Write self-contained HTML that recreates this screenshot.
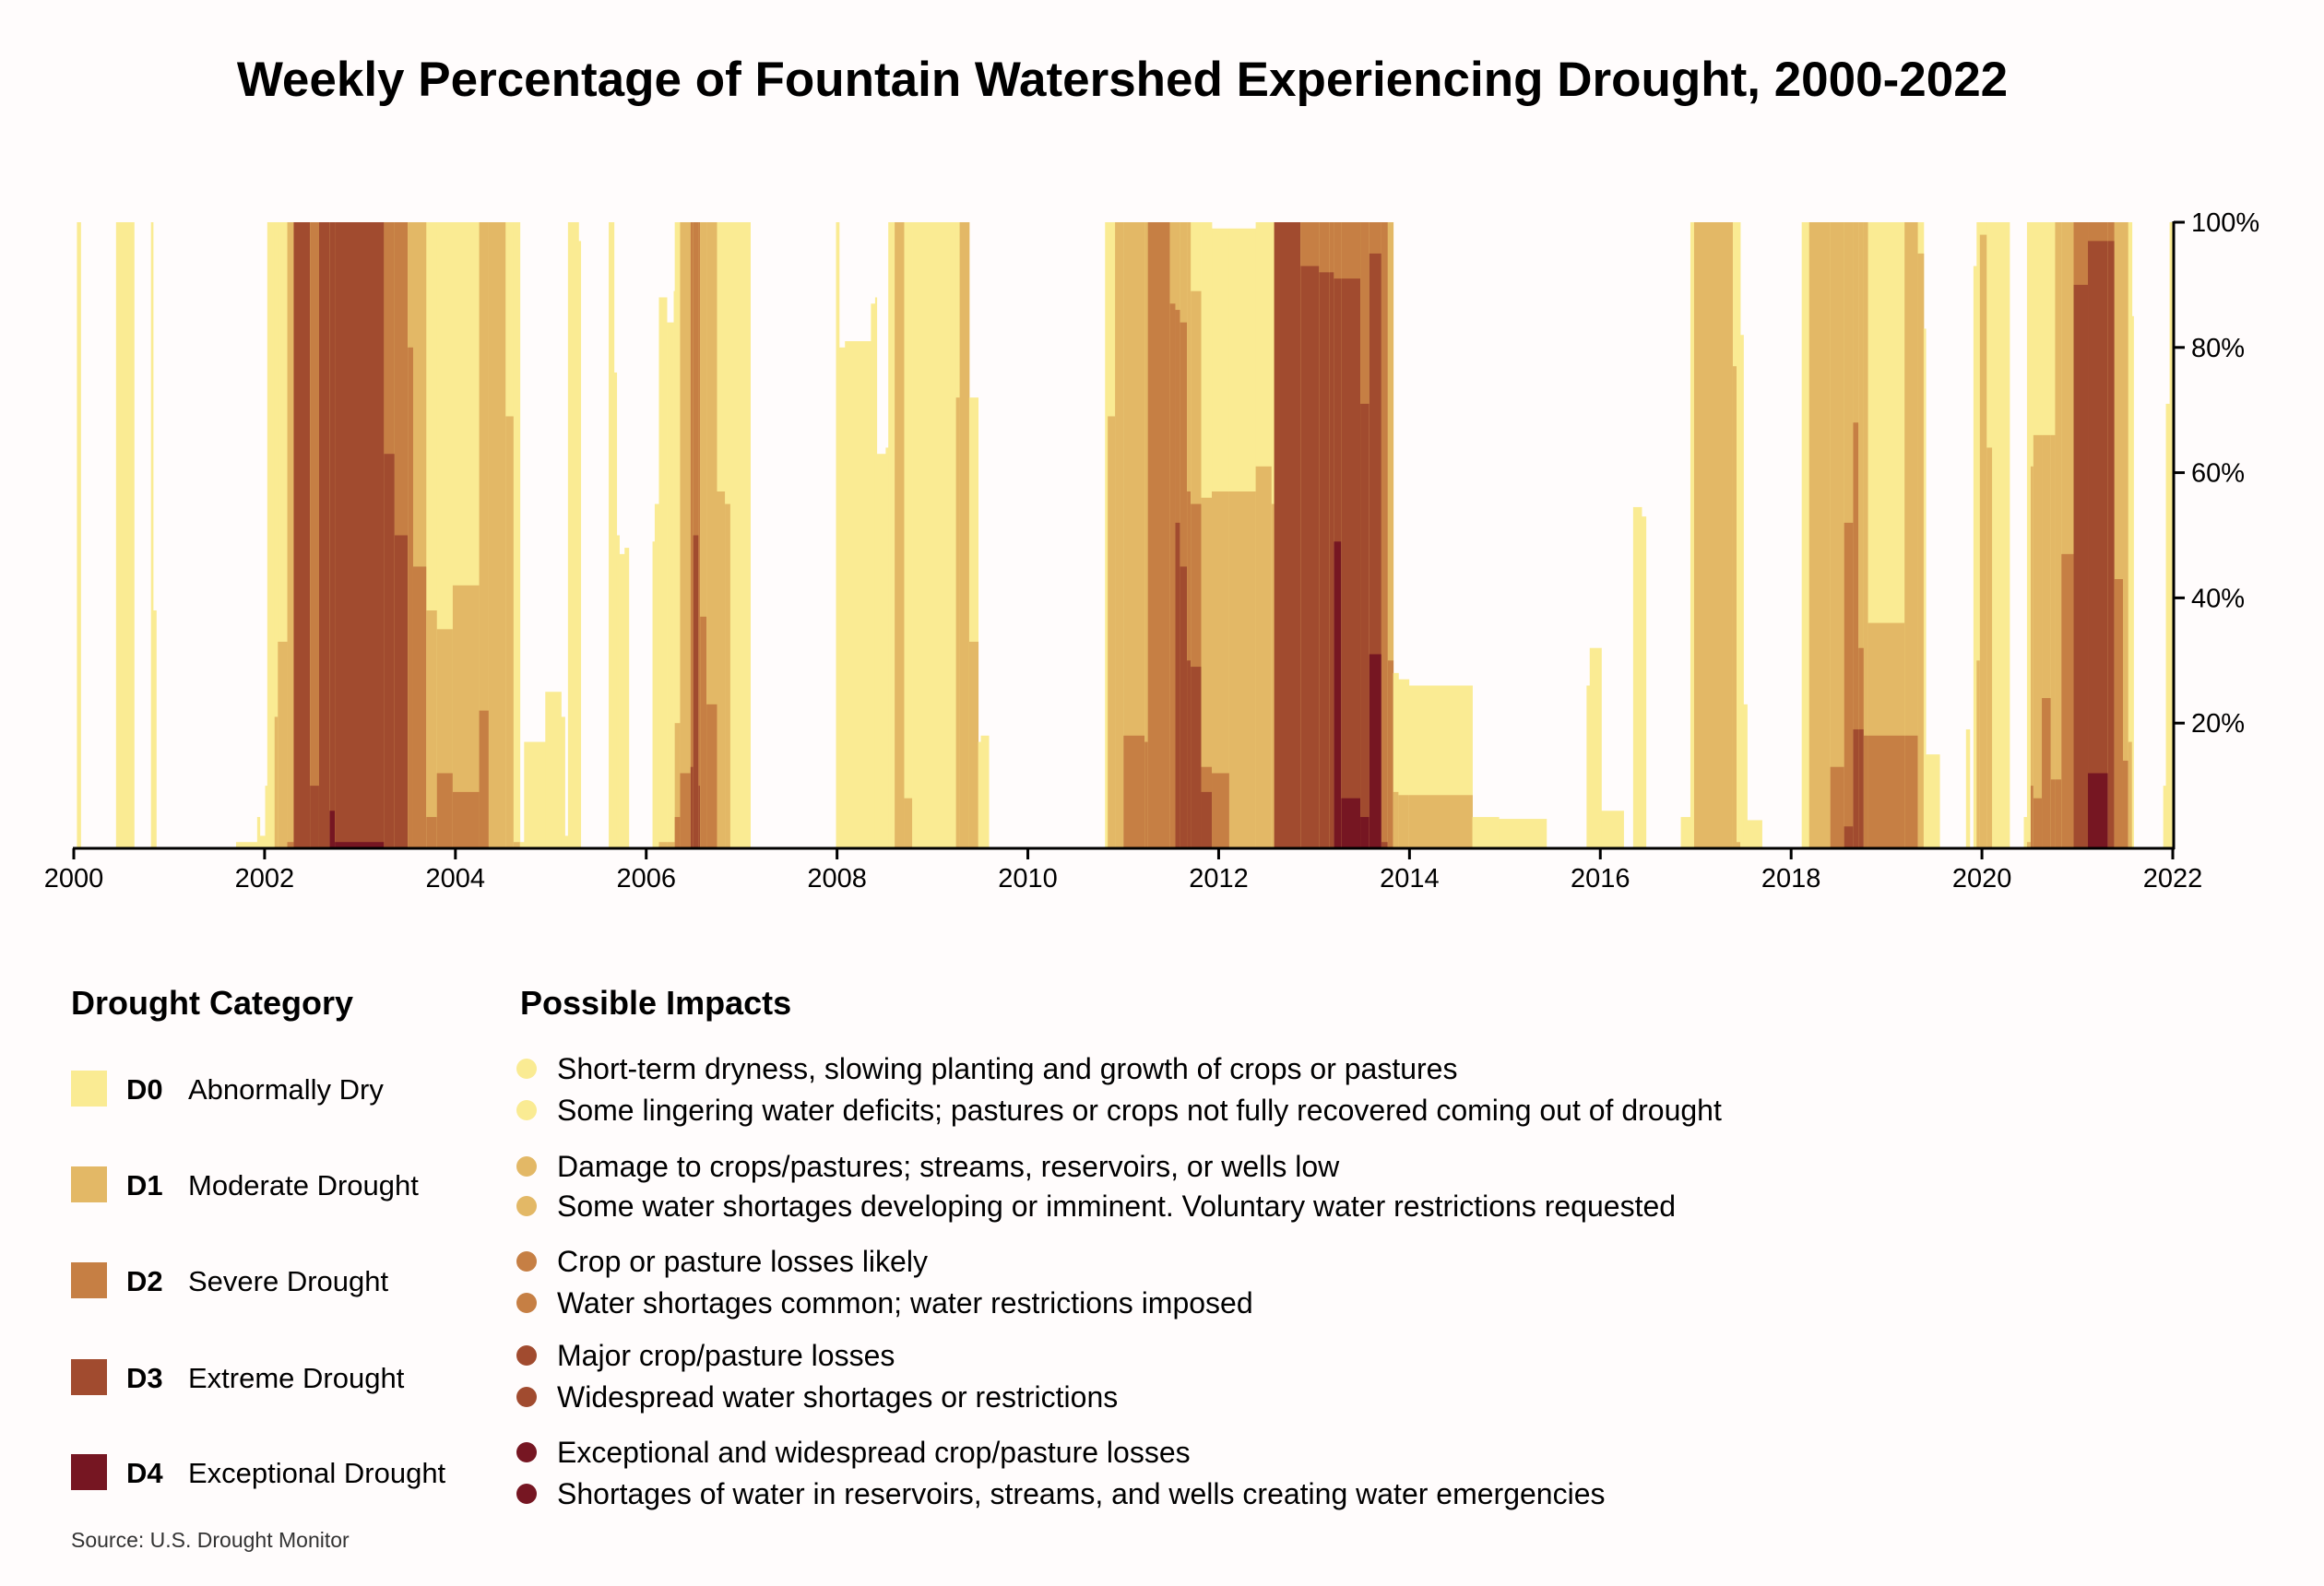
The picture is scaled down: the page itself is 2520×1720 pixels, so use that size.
<!DOCTYPE html>
<html><head><meta charset="utf-8"><style>
html,body{margin:0;padding:0;background:#fffcfc;}
svg{display:block;font-family:"Liberation Sans",sans-serif;}
</style></head><body>
<svg id="chart" width="2520" height="1720" viewBox="0 0 2520 1720">
<rect x="0" y="0" width="2520" height="1720" fill="#fffcfc"/>
<text x="1217" y="104" text-anchor="middle" font-size="53" font-weight="bold" fill="#000">Weekly Percentage of Fountain Watershed Experiencing Drought, 2000-2022</text>
<g id="bars"></g>
<g id="axes"></g>

<g>
<text x="77" y="1100" font-size="36" font-weight="bold">Drought Category</text>
<g><rect x="77" y="1161" width="39" height="39" fill="#faeb93"/><text x="137" y="1192" font-size="31" font-weight="bold">D0</text><text x="204" y="1192" font-size="31">Abnormally Dry</text></g>
<g><rect x="77" y="1265" width="39" height="39" fill="#e3b866"/><text x="137" y="1296" font-size="31" font-weight="bold">D1</text><text x="204" y="1296" font-size="31">Moderate Drought</text></g>
<g><rect x="77" y="1369" width="39" height="39" fill="#c67f44"/><text x="137" y="1400" font-size="31" font-weight="bold">D2</text><text x="204" y="1400" font-size="31">Severe Drought</text></g>
<g><rect x="77" y="1474" width="39" height="39" fill="#a14b2f"/><text x="137" y="1505" font-size="31" font-weight="bold">D3</text><text x="204" y="1505" font-size="31">Extreme Drought</text></g>
<g><rect x="77" y="1577" width="39" height="39" fill="#761622"/><text x="137" y="1608" font-size="31" font-weight="bold">D4</text><text x="204" y="1608" font-size="31">Exceptional Drought</text></g>
</g>

<g font-size="32">
<text x="564" y="1100" font-size="36" font-weight="bold">Possible Impacts</text>
<circle cx="571" cy="1159" r="11" fill="#faeb93"/><text x="604" y="1170">Short-term dryness, slowing planting and growth of crops or pastures</text>
<circle cx="571" cy="1204" r="11" fill="#faeb93"/><text x="604" y="1215">Some lingering water deficits; pastures or crops not fully recovered coming out of drought</text>
<circle cx="571" cy="1265" r="11" fill="#e3b866"/><text x="604" y="1276">Damage to crops/pastures; streams, reservoirs, or wells low</text>
<circle cx="571" cy="1308" r="11" fill="#e3b866"/><text x="604" y="1319">Some water shortages developing or imminent. Voluntary water restrictions requested</text>
<circle cx="571" cy="1368" r="11" fill="#c67f44"/><text x="604" y="1379">Crop or pasture losses likely</text>
<circle cx="571" cy="1413" r="11" fill="#c67f44"/><text x="604" y="1424">Water shortages common; water restrictions imposed</text>
<circle cx="571" cy="1470" r="11" fill="#a14b2f"/><text x="604" y="1481">Major crop/pasture losses</text>
<circle cx="571" cy="1515" r="11" fill="#a14b2f"/><text x="604" y="1526">Widespread water shortages or restrictions</text>
<circle cx="571" cy="1575" r="11" fill="#761622"/><text x="604" y="1586">Exceptional and widespread crop/pasture losses</text>
<circle cx="571" cy="1620" r="11" fill="#761622"/><text x="604" y="1631">Shortages of water in reservoirs, streams, and wells creating water emergencies</text>
</g>
<text x="77" y="1678" font-size="23" fill="#333">Source: U.S. Drought Monitor</text>
</svg>
<script>
const weekStart = [2000.000,2000.033,2000.072,2000.443,2000.632,2000.809,2000.831,2000.864,2001.701,2001.922,
2001.950,2002.006,2002.028,2002.105,2002.139,2002.238,2002.305,2002.476,2002.571,2002.681,
2002.737,2003.252,2003.363,2003.501,2003.557,2003.695,2003.806,2003.972,2004.249,2004.349,
2004.526,2004.609,2004.676,2004.720,2004.942,2005.108,2005.147,2005.180,2005.291,2005.313,
2005.607,2005.662,2005.690,2005.718,2005.773,2005.817,2006.066,2006.089,2006.133,2006.216,
2006.288,2006.299,2006.355,2006.465,2006.493,2006.548,2006.565,2006.632,2006.742,2006.825,
2006.881,2007.091,2007.989,2008.022,2008.083,2008.355,2008.399,2008.416,2008.510,2008.537,
2008.604,2008.704,2008.787,2009.247,2009.285,2009.385,2009.479,2009.507,2009.590,2010.809,
2010.837,2010.914,2011.003,2011.224,2011.258,2011.490,2011.546,2011.596,2011.668,2011.707,
2011.817,2011.928,2012.111,2012.388,2012.554,2012.582,2012.859,2013.053,2013.163,2013.208,
2013.285,2013.485,2013.579,2013.706,2013.773,2013.829,2013.884,2013.994,2014.659,2014.936,
2015.435,2015.856,2015.889,2016.011,2016.244,2016.344,2016.433,2016.478,2016.844,2016.944,
2016.983,2017.389,2017.428,2017.467,2017.500,2017.539,2017.694,2018.111,2018.189,2018.411,
2018.556,2018.650,2018.706,2018.761,2018.806,2019.189,2019.328,2019.389,2019.411,2019.556,
2019.833,2019.872,2019.911,2019.944,2019.978,2020.050,2020.106,2020.289,2020.439,2020.472,
2020.511,2020.539,2020.628,2020.722,2020.767,2020.833,2020.961,2021.111,2021.322,2021.389,
2021.478,2021.533,2021.572,2021.589,2021.900,2021.928,2021.967];
const d0 = [0,100,0,100,0,100,38,0,1,5,
2,10,100,100,100,100,100,100,100,100,
100,100,100,100,100,100,100,100,100,100,
100,100,1,17,25,21,2,100,97,0,
100,76,50,47,48,0,49,55,88,84,
89,100,100,100,100,100,100,100,100,100,
100,0,100,80,81,87,88,63,64,100,
100,100,100,100,100,72,17,18,0,100,
100,100,100,100,100,100,100,100,100,100,
100,99,99,100,100,100,100,100,100,100,
100,100,100,100,100,28,27,26,5,4.7,
0,26,32,6,0,54.5,53,0,5,100,
100,100,100,82,23,4.5,0,100,100,100,
100,100,100,100,100,100,100,83,15,0,
19,0,93,100,100,100,100,0,5,100,
100,100,100,100,100,100,100,100,100,100,
100,100,85,0,10,71,100];
const d1 = [0,0,0,0,0,0,0,0,0,0,
0,0,0,21,33,100,100,100,100,100,
100,100,100,100,100,38,35,42,100,100,
69,1,0,0,0,0,0,0,0,0,
0,0,0,0,0,0,0,0,1,1,
1,20,100,100,100,100,100,100,57,55,
0,0,0,0,0,0,0,0,0,0,
100,8,0,72,100,33,0,0,0,0,
69,100,100,100,100,100,100,100,100,89,
56,57,57,61,55,100,100,100,100,100,
100,100,100,100,100,9,8.5,8.5,0,0,
0,0,0,0,0,0,0,0,0,0,
100,77,1,0,0,0,0,0,100,100,
100,100,100,100,36,100,95,0,0,0,
0,0,0,30,98,64,0,0,0,1,
61,66,66,66,100,100,100,100,100,100,
100,17,0,0,0,0,0];
const d2 = [0,0,0,0,0,0,0,0,0,0,
0,0,0,0,0,1,100,100,100,100,
100,100,100,80,45,5,12,9,22,0,
0,0,0,0,0,0,0,0,0,0,
0,0,0,0,0,0,0,0,0,0,
0,5,12,100,100,100,37,23,0,0,
0,0,0,0,0,0,0,0,0,0,
0,0,0,0,0,0,0,0,0,0,
0,0,18,17,100,87,86,84,57,55,
13,12,0,0,0,100,100,100,100,100,
100,100,100,100,30,0,0,0,0,0,
0,0,0,0,0,0,0,0,0,0,
0,0,0,0,0,0,0,0,0,13,
52,68,32,18,18,18,0,0,0,0,
0,0,0,0,0,0,0,0,0,0,
10,8,24,11,11,47,100,100,100,43,
14,0,0,0,0,0,0];
const d3 = [0,0,0,0,0,0,0,0,0,0,
0,0,0,0,0,0,100,10,100,100,
100,63,50,0,0,0,0,0,0,0,
0,0,0,0,0,0,0,0,0,0,
0,0,0,0,0,0,0,0,0,0,
0,0,0,13,50,10,0,0,0,0,
0,0,0,0,0,0,0,0,0,0,
0,0,0,0,0,0,0,0,0,0,
0,0,0,0,0,0,52,45,30,29,
9,0,0,0,0,100,93,92,92,91,
91,71,95,1,0,0,0,0,0,0,
0,0,0,0,0,0,0,0,0,0,
0,0,0,0,0,0,0,0,0,0,
3.5,19,19,0,0,0,0,0,0,0,
0,0,0,0,0,0,0,0,0,0,
0,0,0,0,0,0,90,97,97,0,
0,0,0,0,0,0,0];
const d4 = [0,0,0,0,0,0,0,0,0,0,
0,0,0,0,0,0,0,0,0,6,
1,0,0,0,0,0,0,0,0,0,
0,0,0,0,0,0,0,0,0,0,
0,0,0,0,0,0,0,0,0,0,
0,0,0,0,0,0,0,0,0,0,
0,0,0,0,0,0,0,0,0,0,
0,0,0,0,0,0,0,0,0,0,
0,0,0,0,0,0,0,0,0,0,
0,0,0,0,0,0,0,0,0,49,
8,5,31,0,0,0,0,0,0,0,
0,0,0,0,0,0,0,0,0,0,
0,0,0,0,0,0,0,0,0,0,
0,0,0,0,0,0,0,0,0,0,
0,0,0,0,0,0,0,0,0,0,
0,0,0,0,0,0,0,12,0,0,
0,0,0,0,0,0,0];
const yearTicks = [2000,2002,2004,2006,2008,2010,2012,2014,2016,2018,2020,2022];
const pctTicks = [20,40,60,80,100];
const pctLabels = ["20%","40%","60%","80%","100%"];
const endYear = 2022.0;

const NS = "http://www.w3.org/2000/svg";
const X0 = 80, X1 = 2356, Y0 = 920, Y1 = 241;
function xScale(yr){ return X0 + (yr - 2000) / 22 * (X1 - X0); }
function yScale(p){ return Y0 - p / 100 * (Y0 - Y1); }
const colors = ["#faeb93","#e3b866","#c67f44","#a14b2f","#761622"];
const levels = [d0,d1,d2,d3,d4];
const bars = document.getElementById("bars");
for (let i = 0; i < weekStart.length; i++) {
  const xa = xScale(weekStart[i]);
  const xb = xScale(i + 1 < weekStart.length ? weekStart[i+1] : endYear);
  for (let L = 0; L < 5; L++) {
    const v = levels[L][i];
    if (v <= 0) continue;
    const r = document.createElementNS(NS, "rect");
    r.setAttribute("x", xa);
    r.setAttribute("width", Math.max(0.5, xb - xa + 0.4));
    r.setAttribute("y", yScale(v));
    r.setAttribute("height", Y0 - yScale(v));
    r.setAttribute("fill", colors[L]);
    
    
    bars.appendChild(r);
  }
}
const axes = document.getElementById("axes");
function line(x1,y1,x2,y2,name){
  const l = document.createElementNS(NS,"line");
  l.setAttribute("x1",x1);l.setAttribute("y1",y1);l.setAttribute("x2",x2);l.setAttribute("y2",y2);
  l.setAttribute("stroke","#000");l.setAttribute("stroke-width","3");
  
  
  axes.appendChild(l);
}
function text(x,y,s,anchor,name){
  const t = document.createElementNS(NS,"text");
  t.setAttribute("x",x);t.setAttribute("y",y);t.setAttribute("font-size","29");
  t.setAttribute("text-anchor",anchor);t.textContent = s;
  
  
  axes.appendChild(t);
}
line(X0-1, Y0, X1+2, Y0, "x-axis");
line(X1+1, Y1-1, X1+1, Y0+1, "y-axis");
yearTicks.forEach(function(yr){
  const x = xScale(yr);
  line(x, Y0, x, Y0+12, "x-tick");
  text(x, Y0+42, String(yr), "middle", "x-tick-label");
});
pctTicks.forEach(function(p, k){
  const y = yScale(p);
  line(X1+1, y, X1+13, y, "y-tick");
  text(X1+20, y+10, pctLabels[k], "start", "y-tick-label");
});
</script>
</body></html>
